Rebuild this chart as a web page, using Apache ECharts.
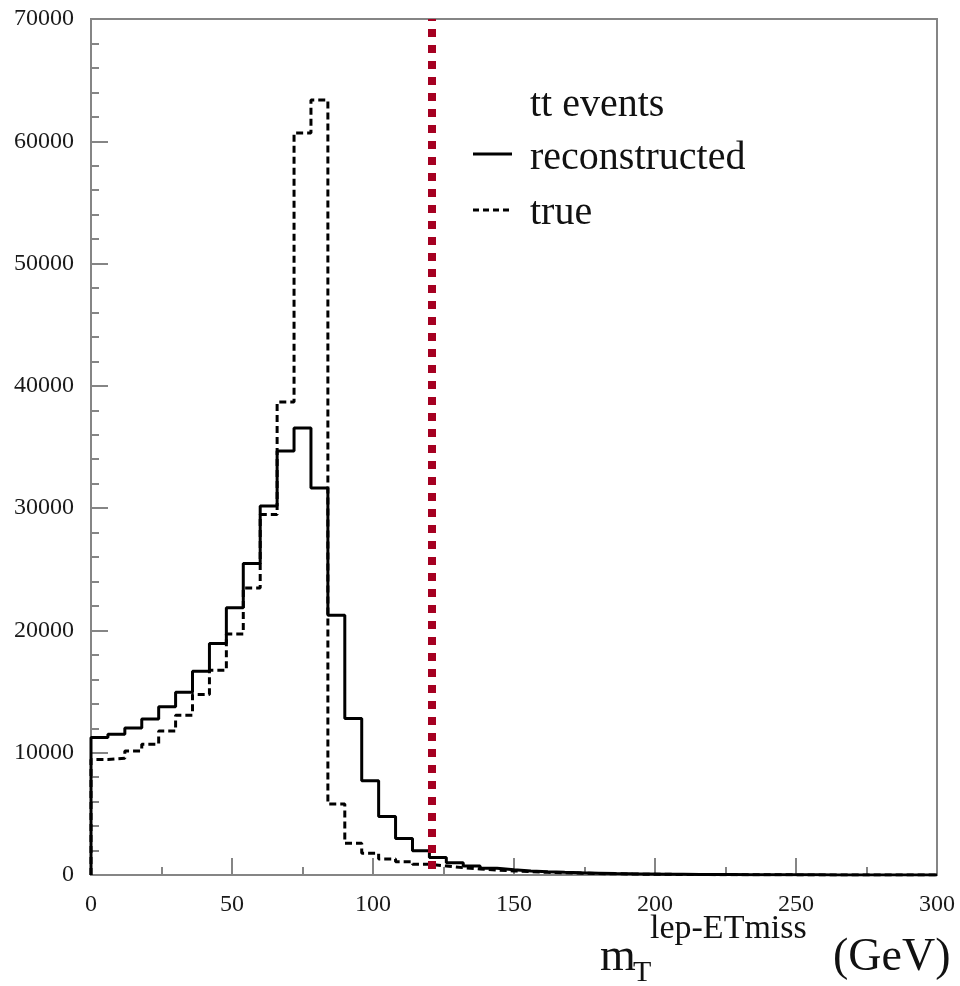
<!DOCTYPE html>
<html>
<head>
<meta charset="utf-8">
<script src="https://cdn.jsdelivr.net/npm/echarts@6/dist/echarts.min.js"></script>
<style>html,body{margin:0;padding:0;background:#fff}#c{width:960px;height:986px}</style>
</head>
<body>
<div id="c"></div>
<script>
// Bin lower edges (GeV), bin width 6 GeV
var binLow = [0,6,12,18,24,30,36,42,48,54,60,66,72,78,84,90,96,102,108,114,
  120,126,132,138,144,150,156,162,168,174,180,186,192,198,204,210,216,222,228,234,
  240,246,252,258,264,270,276,282,288,294];
var binHighEnd = 300;
var recoValues = [11250,11520,12030,12750,13750,14950,16670,18930,21860,25470,
  30170,34670,36550,31640,21240,12800,7700,4780,2980,1980,
  1440,1000,740,550,420,330,270,220,180,150,
  120,100,85,70,60,50,42,35,30,25,
  20,16,12,9,6,4,3,2,1,1];
var trueValues = [9450,9550,10150,10700,11770,13070,14760,16750,19700,23470,
  29470,38670,60680,63370,5800,2590,1780,1300,1090,870,
  735,600,490,410,330,270,220,180,150,120,
  100,80,65,55,45,38,30,25,20,16,
  12,9,7,5,4,3,2,1,1,1];
var cutValue = 121;
var xTicks = [0,50,100,150,200,250,300];
var yTicks = [0,10000,20000,30000,40000,50000,60000,70000];
var legendTitle = 'tt events';
var seriesNames = ['reconstructed','true'];

function stepData(vals){
  var d = [[binLow[0], 0]];
  for (var i = 0; i < vals.length; i++) d.push([binLow[i], vals[i]]);
  d.push([binHighEnd, vals[vals.length-1]]);
  return d;
}

var serif = 'Liberation Serif, Times New Roman, serif';
var axisGray = '#858585';
var chart = echarts.init(document.getElementById('c'), null, {renderer:'canvas'});
chart.setOption({
  animation:false,
  backgroundColor:'#fff',
  grid:{left:91, top:19, right:23, bottom:111, show:true, borderColor:axisGray, borderWidth:2, backgroundColor:'transparent'},
  xAxis:{type:'value', min:xTicks[0], max:xTicks[xTicks.length-1], interval:50,
    axisLine:{lineStyle:{color:axisGray, width:2}},
    axisTick:{inside:true, length:17, lineStyle:{color:axisGray, width:2}},
    minorTick:{show:true, splitNumber:2, length:8, lineStyle:{color:axisGray, width:2}},
    splitLine:{show:false},
    axisLabel:{fontFamily:serif, fontSize:24, color:'#1a1a1a', margin:18, formatter:function(v){return String(v);}}
  },
  yAxis:{type:'value', min:yTicks[0], max:yTicks[yTicks.length-1], interval:10000,
    axisLine:{show:true, lineStyle:{color:axisGray, width:2}},
    axisTick:{show:true, inside:true, length:17, lineStyle:{color:axisGray, width:2}},
    minorTick:{show:true, splitNumber:5, length:8, lineStyle:{color:axisGray, width:2}},
    splitLine:{show:false},
    axisLabel:{fontFamily:serif, fontSize:24, color:'#1a1a1a', margin:17, formatter:function(v){return String(v);}}
  },
  series:[
    {name:seriesNames[0], type:'line', step:'end', data:stepData(recoValues), symbol:'none',
      lineStyle:{color:'#000', width:3}, z:3},
    {name:seriesNames[1], type:'line', step:'end', data:stepData(trueValues), symbol:'none',
      lineStyle:{color:'#000', width:3, type:[7,4]}, z:2,
      markLine:{silent:true, symbol:['none','none'], label:{show:false},
        lineStyle:{color:'#a50021', width:8, type:[8,8], dashOffset:10, cap:'butt'},
        data:[{xAxis:cutValue}], animation:false}
    }
  ],
  graphic:[
    {type:'text', left:530, top:105-20, style:{text:legendTitle, font:'40px '+serif, fill:'#111'}},
    {type:'line', shape:{x1:473, y1:154, x2:512, y2:154}, style:{stroke:'#000', lineWidth:3}},
    {type:'text', x:530, y:158, style:{text:seriesNames[0], font:'40px '+serif, fill:'#111', verticalAlign:'middle'}},
    {type:'line', shape:{x1:473, y1:210, x2:512, y2:210}, style:{stroke:'#000', lineWidth:3, lineDash:[6,4]}},
    {type:'text', x:530, y:213, style:{text:seriesNames[1], font:'40px '+serif, fill:'#111', verticalAlign:'middle'}},
    {type:'text', x:600, y:958, style:{text:'m', font:'46px '+serif, fill:'#111', verticalAlign:'middle'}},
    {type:'text', x:633, y:973, style:{text:'T', font:'30px '+serif, fill:'#111', verticalAlign:'middle'}},
    {type:'text', x:650, y:929, style:{text:'lep-ETmiss', font:'34px '+serif, fill:'#111', verticalAlign:'middle'}},
    {type:'text', x:833, y:958, style:{text:'(GeV)', font:'46px '+serif, fill:'#111', verticalAlign:'middle'}}
  ]
});
</script>
</body>
</html>
